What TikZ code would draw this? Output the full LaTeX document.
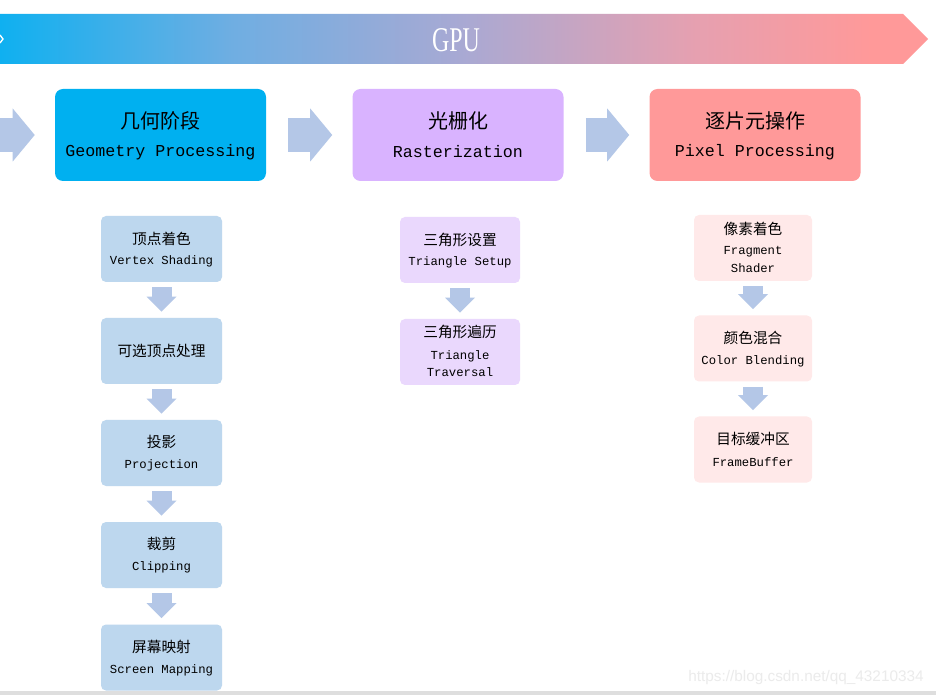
\documentclass[tikz,border=0pt]{standalone}
\usepackage{fontspec}
\setmainfont{Liberation Serif}
\newfontfamily\cjk{Noto Sans CJK SC}
\newfontfamily\mono{Liberation Mono}
\newfontfamily\wsans{Liberation Sans}
\usetikzlibrary{arrows.meta}
\definecolor{gL}{HTML}{0FB0F0}
\definecolor{gQ}{HTML}{6FAEE2}
\definecolor{gM}{HTML}{A9A9D3}
\definecolor{gT}{HTML}{E6A0B0}
\definecolor{gR}{HTML}{FF9999}
\definecolor{stA}{HTML}{00B0F0}
\definecolor{stB}{HTML}{D9B3FF}
\definecolor{stC}{HTML}{FF9999}
\definecolor{sbA}{HTML}{BDD7EE}
\definecolor{sbB}{HTML}{EAD8FD}
\definecolor{sbC}{HTML}{FFE9E9}
\definecolor{arr}{HTML}{B4C7E7}
\definecolor{wm}{HTML}{EBEBEB}
\definecolor{bar}{HTML}{DEDEDE}
\pgfdeclarehorizontalshading{gpushade}{100bp}{color(0bp)=(gL); color(25bp)=(gL); color(37.5bp)=(gQ); color(50bp)=(gM); color(62.5bp)=(gT); color(72bp)=(gR); color(100bp)=(gR)}
\begin{document}
\begin{tikzpicture}[x=0.75pt,y=-0.75pt,
  stage/.style={rectangle, rounded corners=6pt, minimum width=158.25pt, minimum height=69pt, inner sep=0pt},
  subA/.style={rectangle, rounded corners=3.75pt, fill=sbA, minimum width=90.75pt, minimum height=49.5pt, inner sep=0pt},
  subB/.style={rectangle, rounded corners=3.75pt, fill=sbB, minimum width=90pt, minimum height=49.5pt, inner sep=0pt},
  subC/.style={rectangle, rounded corners=3.75pt, fill=sbC, minimum width=88.5pt, minimum height=49.5pt, inner sep=0pt},
  stcn/.style={font=\cjk\fontsize{15pt}{18pt}\selectfont, inner sep=0pt},
  sten/.style={font=\mono\fontsize{12.5pt}{15pt}\selectfont, inner sep=0pt},
  sbcn/.style={font=\cjk\fontsize{11pt}{13pt}\selectfont, inner sep=0pt},
  sben/.style={font=\mono\fontsize{9.2pt}{11pt}\selectfont, inner sep=0pt},
  harrow/.style={draw=arr, line width=25.5pt, -{Triangle[width=39.75pt, length=16.5pt, line width=0pt]}},
  varrow/.style={draw=arr, line width=15pt, -{Triangle[width=22.5pt, length=11.25pt, line width=0pt]}, shorten <=3.75pt, shorten >=4.5pt}
]
\useasboundingbox (0,0) rectangle (936,695);
\fill[white] (0,0) rectangle (936,695);

% banner
\shade[shading=gpushade] (0,14) -- (903,14) -- (928,39) -- (903,64) -- (0,64) -- cycle;
\draw[white, line width=1pt] (0,35) -- (3,39) -- (0,43);
\node[font=\fontsize{26pt}{28pt}\selectfont, text=white, inner sep=0pt] (gpu) at (456,40) {\scalebox{0.69}[1]{GPU}};

% stages
\node[stage, fill=stA] (g1) at (160.5,135) {};
\node[stage, fill=stB] (g2) at (458,135) {};
\node[stage, fill=stC] (g3) at (755,135) {};
\node[stcn] (g1cn) at (160.5,121) {几何阶段};
\node[sten] (g1en) at (160.5,152) {Geometry Processing};
\node[stcn] (g2cn) at (458,121) {光栅化};
\node[sten] (g2en) at (458,152) {Rasterization};
\node[stcn] (g3cn) at (755,121) {逐片元操作};
\node[sten] (g3en) at (755,152) {Pixel Processing};

\coordinate (lin) at (0,135);
\draw[harrow, shorten >=15pt] (lin) -- (g1.west);
\draw[harrow, shorten <=16.5pt, shorten >=15pt] (g1.east) -- (g2.west);
\draw[harrow, shorten <=16.5pt, shorten >=15pt] (g2.east) -- (g3.west);

% column 1
\node[subA] (a1) at (161.5,249) {};
\node[subA] (a2) at (161.5,351) {};
\node[subA] (a3) at (161.5,453) {};
\node[subA] (a4) at (161.5,555) {};
\node[subA] (a5) at (161.5,657.5) {};
\node[sbcn] (a1cn) at (161.5,239) {顶点着色};
\node[sben] (a1en) at (161.5,261) {Vertex Shading};
\node[sbcn] (a2cn) at (161.5,351) {可选顶点处理};
\node[sbcn] (a3cn) at (161.5,442) {投影};
\node[sben] (a3en) at (161.5,465) {Projection};
\node[sbcn] (a4cn) at (161.5,544) {裁剪};
\node[sben] (a4en) at (161.5,567) {Clipping};
\node[sbcn] (a5cn) at (161.5,647) {屏幕映射};
\node[sben] (a5en) at (161.5,670) {Screen Mapping};
\draw[varrow] (a1.south) -- (a2.north);
\draw[varrow] (a2.south) -- (a3.north);
\draw[varrow] (a3.south) -- (a4.north);
\draw[varrow] (a4.south) -- (a5.north);

% column 2
\node[subB] (b1) at (460,250) {};
\node[subB] (b2) at (460,352) {};
\node[sbcn] (b1cn) at (460,240) {三角形设置};
\node[sben] (b1en) at (460,262) {Triangle Setup};
\node[sbcn] (b2cn) at (460,332) {三角形遍历};
\node[sben] (b2en) at (460,356) {Triangle};
\node[sben] (b2en2) at (460,372) {Traversal};
\draw[varrow] (b1.south) -- (b2.north);

% column 3
\node[subC] (c1) at (753,248) {};
\node[subC] (c2) at (753,348.5) {};
\node[subC] (c3) at (753,449.5) {};
\node[sbcn] (c1cn) at (753,229) {像素着色};
\node[sben] (c1en) at (753,252) {Fragment};
\node[sben] (c1en2) at (753,268) {Shader};
\node[sbcn] (c2cn) at (753,338) {颜色混合};
\node[sben] (c2en) at (753,361) {Color Blending};
\node[sbcn] (c3cn) at (753,439) {目标缓冲区};
\node[sben] (c3en) at (753,462) {FrameBuffer};
\draw[varrow] (c1.south) -- (c2.north);
\draw[varrow] (c2.south) -- (c3.north);

% bottom
\fill[bar] (0,691) rectangle (936,695);
\node[font=\wsans\fontsize{11.5pt}{13pt}\selectfont, text=wm, inner sep=0pt] (wmk) at (806,678) {https://blog.csdn.net/qq\_43210334};
\end{tikzpicture}
\end{document}
